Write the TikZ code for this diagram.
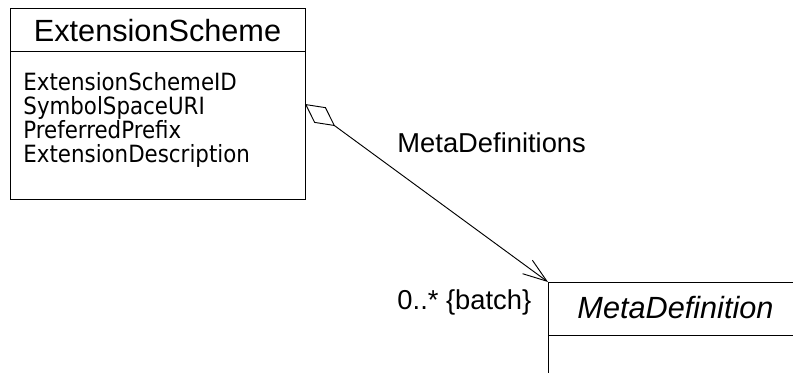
\documentclass[tikz,border=0pt]{standalone}
\usepackage{fontspec}
\setmainfont{Liberation Sans}
\newfontfamily\attrfont{DejaVu Sans Condensed}
\usetikzlibrary{arrows.meta}

\begin{document}
\begin{tikzpicture}[
  x=0.75pt, y=-0.75pt,
  line width=0.7pt,
  classname/.style={font=\fontsize{23}{27}\selectfont, inner sep=0pt, anchor=base},
  attribute/.style={font=\attrfont\fontsize{17.8}{22}\selectfont, inner sep=0pt, anchor=base west},
  rolename/.style={font=\fontsize{20.5}{24}\selectfont, inner sep=0pt, anchor=base west},
  aggregation/.style={{Diamond[open, length=28pt, width=14.5pt]}-{Straight Barb[length=18pt, width=12.5pt]}}
]
\clip (0,0) rectangle (793,372);

% ExtensionScheme class
\draw (10,8) rectangle (305,199);
\draw (10,51) -- (305,51);
\node[classname] (scheme) at (157.5,41) {ExtensionScheme};
\foreach \attr [count=\i] in {ExtensionSchemeID, SymbolSpaceURI, PreferredPrefix, ExtensionDescription}
  \node[attribute] (attr\i) at (23,65.7+24.3*\i) {\attr};

% MetaDefinition class (cut off at the border)
\draw (820,282) -- (548,282) -- (548,390);
\draw (548,335) -- (820,335);
\node[classname, font=\fontsize{23}{27}\selectfont\itshape] (meta) at (675.5,318) {MetaDefinition};

% Association
\coordinate (schemeside) at (305,104);
\coordinate (metacorner) at (548,282);
\draw[aggregation] (schemeside) -- (metacorner);

% Labels
\node[rolename] (role) at (397,152) {MetaDefinitions};
\node[rolename] (mult) at (397,309) {0..* \{batch\}};

\end{tikzpicture}
\end{document}
